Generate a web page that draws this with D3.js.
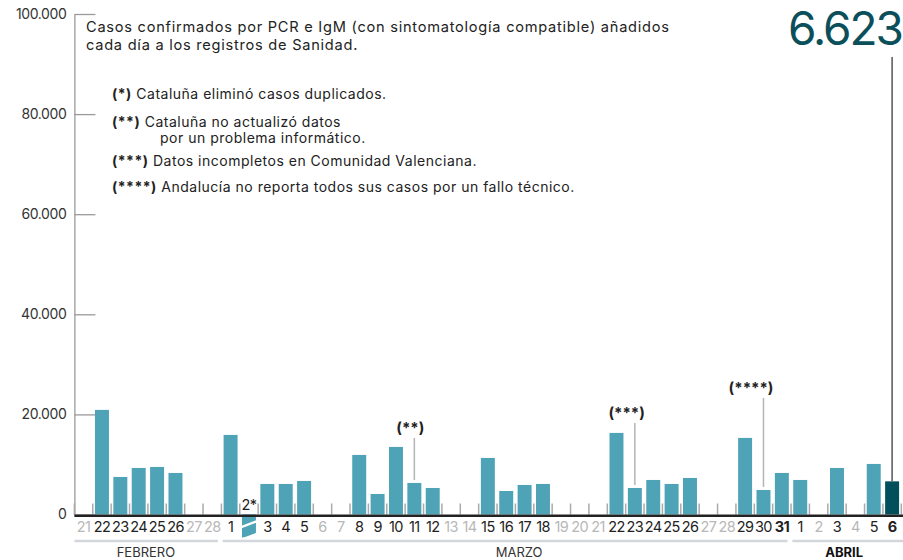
<!DOCTYPE html>
<html>
<head>
<meta charset="utf-8">
<script src="https://cdn.jsdelivr.net/npm/d3@7"></script>
<style>
  body { margin: 0; background: #fff; }
  svg { display: block; font-family: Inter, Roboto, sans-serif; }
</style>
</head>
<body>
<div id="chart"></div>
<script>
// Day labels, Feb 21 -> Apr 6
const dayLabels = ["21","22","23","24","25","26","27","28",
  "1","2*","3","4","5","6","7","8","9","10","11","12","13","14","15","16","17","18","19","20","21","22","23","24","25","26","27","28","29","30","31",
  "1","2","3","4","5","6"];

// cases added each day (null = no data that day)
const dayValues = [null, 20900, 7500, 9300, 9500, 8300, null, null,
  15900, -4600, 6100, 6100, 6700, null, null, 11900, 4100, 13500, 6300, 5300, null, null, 11300, 4700, 5900, 6100, null, null, null, 16300, 5300, 6900, 6100, 7300, null, null, 15300, 4900, 8300,
  6900, null, 9300, null, 10100, 6623];

const boldDays = [38, 44];
const months = ["FEBRERO", "MARZO", "ABRIL"];
const monthLengths = [8, 31, 6];
const yTicks = [0, 20000, 40000, 60000, 80000, 100000];

// (**) etc. markers: day index, label, level of the top of the leader line
const markers = [
  { day: 18, label: "(**)", level: 15300 },
  { day: 30, label: "(***)", level: 18300 },
  { day: 37, label: "(****)", level: 23300 }
];

const notes = [
  { mark: "(*)", text: " Cataluña eliminó casos duplicados." },
  { mark: "(**)", text: " Cataluña no actualizó datos", more: "por un problema informático." },
  { mark: "(***)", text: " Datos incompletos en Comunidad Valenciana." },
  { mark: "(****)", text: " Andalucía no reporta todos sus casos por un fallo técnico." }
];

const width = 903, height = 560;
const margin = { top: 14, right: 1.7, bottom: 45.5, left: 74.4 };
const barColor = "#4fa3b7", lastColor = "#014f5a";

const svg = d3.select("#chart")
  .append("svg")
  .attr("width", width)
  .attr("height", height);

const x = d3.scaleBand()
  .domain(d3.range(dayLabels.length))
  .range([margin.left, width - margin.right])
  .paddingInner(0.24)
  .paddingOuter(0.12);

const y = d3.scaleLinear()
  .domain([0, 100000])
  .range([height - margin.bottom, margin.top]);

const fmt = d => d3.format(",")(d).replace(/,/g, ".");

// y axis (line on the left, ticks pointing right, labels on the left)
const yAxis = svg.append("g")
  .attr("transform", `translate(${margin.left},0)`)
  .call(d3.axisRight(y).tickValues(yTicks).tickSize(21).tickSizeOuter(0).tickFormat(fmt));
yAxis.select(".domain").attr("stroke", "#9a9a9a").attr("stroke-width", 1.3);
yAxis.selectAll(".tick line").attr("stroke", "#9a9a9a").attr("stroke-width", 1.3);
yAxis.selectAll(".tick text")
  .attr("x", -8)
  .attr("text-anchor", "end")
  .attr("font-family", "Inter, Roboto, sans-serif")
  .attr("font-size", 14)
  .attr("letter-spacing", -0.4)
  .attr("fill", "#333");

// small ticks between days
const step = x.step();
const edges = d3.range(dayLabels.length + 1).map(i => margin.left + i * step);
svg.append("g").selectAll("line")
  .data(edges)
  .enter()
  .append("line")
  .attr("x1", d => d).attr("x2", d => d)
  .attr("y1", y(0) - 11).attr("y2", y(0))
  .attr("stroke", "#aaa")
  .attr("stroke-width", 1.5);

// bars
const barData = dayValues.map((v, i) => ({ i, v })).filter(d => d.v !== null);
svg.append("g").selectAll("rect")
  .data(barData)
  .enter()
  .append("rect")
  .attr("x", d => x(d.i))
  .attr("y", d => d.v >= 0 ? y(d.v) : y(0))
  .attr("width", x.bandwidth())
  .attr("height", d => Math.abs(y(0) - y(d.v)))
  .attr("fill", d => d.i === dayLabels.length - 1 ? lastColor : barColor);

// break mark on the negative bar
barData.filter(d => d.v < 0).forEach(d => {
  const x0 = x(d.i) - 1, x1 = x(d.i) + x.bandwidth() + 1;
  const yb = y(0) + 11;
  svg.append("polygon")
    .attr("points", `${x0},${yb + 3} ${x1},${yb - 3} ${x1},${yb - 5.5} ${x0},${yb + 0.5}`)
    .attr("fill", "#fff");
  svg.append("polygon")
    .attr("points", `${x0},${y(d.v) + 1} ${x1},${y(d.v) - 5} ${x1},${y(d.v) + 2} ${x0},${y(d.v) + 2}`)
    .attr("fill", "#fff");
});

// baseline
svg.append("line")
  .attr("x1", margin.left).attr("x2", width)
  .attr("y1", y(0) + 1.2).attr("y2", y(0) + 1.2)
  .attr("stroke", "#222")
  .attr("stroke-width", 2.6);

// day labels
svg.append("g").selectAll("text")
  .data(dayLabels)
  .enter()
  .append("text")
  .attr("x", (d, i) => x(i) + x.bandwidth() / 2)
  .attr("y", (d, i) => dayValues[i] !== null && dayValues[i] < 0 ? y(0) - 4.5 : y(0) + 17)
  .attr("text-anchor", "middle")
  .attr("font-size", 14.5)
  .attr("letter-spacing", -0.6)
  .attr("font-weight", (d, i) => boldDays.includes(i) ? "bold" : "normal")
  .attr("fill", (d, i) => dayValues[i] === null ? "#b8b8b8" : "#222")
  .text(d => d);

// month brackets
let start = 0;
months.forEach((m, k) => {
  const x0 = margin.left + start * step;
  const x1 = margin.left + (start + monthLengths[k]) * step;
  svg.append("line")
    .attr("x1", k === 0 ? x0 : x0 + 1.3)
    .attr("x2", k === months.length - 1 ? width : x1 - 3.5)
    .attr("y1", 541).attr("y2", 541)
    .attr("stroke", "#d3d6da")
    .attr("stroke-width", 2.5);
  const cx = k === 1 ? x0 + 16.2 * step : (x0 + x1) / 2 - 2;
  svg.append("text")
    .attr("x", cx)
    .attr("y", 557)
    .attr("text-anchor", "middle")
    .attr("font-size", 13)
    .attr("font-weight", k === months.length - 1 ? "bold" : "normal")
    .attr("fill", k === months.length - 1 ? "#111" : "#333")
    .text(m);
  start += monthLengths[k];
});

// markers with leader lines
markers.forEach(m => {
  const cx = x(m.day) + x.bandwidth() / 2;
  svg.append("line")
    .attr("x1", cx).attr("x2", cx)
    .attr("y1", y(m.level)).attr("y2", y(dayValues[m.day]) - 3)
    .attr("stroke", "#b5b5b5")
    .attr("stroke-width", 1.5);
  svg.append("text")
    .attr("x", cx + 10)
    .attr("y", y(m.level) - 5)
    .attr("text-anchor", "end")
    .attr("font-size", 15)
    .attr("font-weight", "bold")
    .attr("fill", "#222")
    .text(m.label);
});

// title
svg.append("text")
  .attr("x", 86).attr("y", 32)
  .attr("font-size", 14.6)
  .attr("letter-spacing", 0.75)
  .attr("fill", "#222")
  .text("Casos confirmados por PCR e IgM (con sintomatología compatible) añadidos");
svg.append("text")
  .attr("x", 86).attr("y", 50)
  .attr("font-size", 14.6)
  .attr("letter-spacing", 0.75)
  .attr("fill", "#222")
  .text("cada día a los registros de Sanidad.");

// notes
const noteY = [99, 127, 166, 192];
notes.forEach((n, k) => {
  const t = svg.append("text")
    .attr("x", 112)
    .attr("y", noteY[k])
    .attr("font-size", 14)
    .attr("letter-spacing", 0.5)
    .attr("fill", "#222");
  t.append("tspan").attr("font-weight", "bold").text(n.mark);
  t.append("tspan").text(n.text);
  if (n.more) {
    svg.append("text")
      .attr("x", 160)
      .attr("y", noteY[k] + 16)
      .attr("font-size", 14)
      .attr("letter-spacing", 0.5)
      .attr("fill", "#222")
      .text(n.more);
  }
});

// last value callout
const last = dayLabels.length - 1;
const lx = x(last) + x.bandwidth() / 2;
svg.append("line")
  .attr("x1", lx).attr("x2", lx)
  .attr("y1", 57).attr("y2", y(dayValues[last]))
  .attr("stroke", "#555")
  .attr("stroke-width", 1.5);
svg.append("text")
  .attr("x", width - 1)
  .attr("y", 45)
  .attr("text-anchor", "end")
  .attr("font-size", 46)
  .attr("letter-spacing", -2)
  .attr("fill", "#0b4f5b")
  .text(fmt(dayValues[last]));
</script>
</body>
</html>
